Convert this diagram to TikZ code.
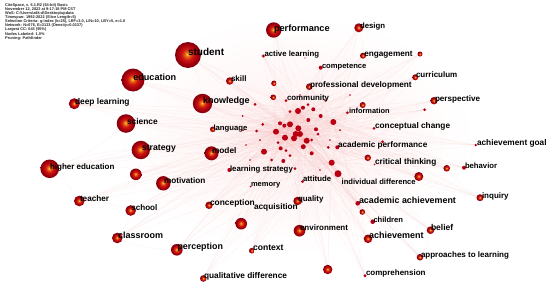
\documentclass[tikz,border=0pt]{standalone}
\usepackage{fontspec}
\setmainfont{Liberation Sans}
\definecolor{cbcore}{RGB}{255,214,70}
\definecolor{cbmid}{RGB}{238,110,20}
\definecolor{cbred}{RGB}{205,22,18}
\definecolor{cbdark}{RGB}{165,0,12}
\definecolor{cbedge}{RGB}{125,0,12}
\definecolor{cbdot}{RGB}{185,0,18}
\definecolor{edgepink}{RGB}{250,175,175}
\pgfdeclareradialshading{citeball}{\pgfpoint{-1.5bp}{1.5bp}}{color(0bp)=(cbcore); color(4bp)=(cbmid); color(11bp)=(cbred); color(19bp)=(cbdark); color(25bp)=(cbedge); color(50bp)=(cbedge)}
\pgfdeclarelayer{bg}
\pgfsetlayers{bg,main}
\tikzset{
  kwball/.style={circle, inner sep=0pt, outer sep=0pt, shading=citeball, minimum size=#1},
  kwdot/.style={circle, inner sep=0pt, outer sep=0pt, fill=cbdot, minimum size=#1},
  kwlbl/.style={anchor=base west, inner sep=0pt, outer sep=0pt, text=black, font=\bfseries\fontsize{#1}{#1}\selectfont},
  kwedge/.style={draw=edgepink, line width=0.3pt, opacity=0.16},
}
\begin{document}
\begin{tikzpicture}[x=1pt,y=-1pt]
\useasboundingbox (0,0) rectangle (550,287);
% header
\node[anchor=north west, align=left, inner sep=0pt, font=\bfseries\fontsize{3.9}{4.15}\selectfont, text=black!85] (hdr) at (5,3)
 {CiteSpace, v. 6.1.R2 (64-bit) Basic\\November 12, 2022 at 9:17:18 PM CST\\WoS: C:\textbackslash Users\textbackslash zdk-d\textbackslash Desktop\textbackslash updata\\Timespan: 1992-2022 (Slice Length=5)\\Selection Criteria: g-index (k=25), LRF=3.0, L/N=10, LBY=5, e=1.0\\Network: N=676, E=3123 (Density=0.0137)\\Largest CC: 643 (95\%)\\Nodes Labeled: 1.0\%\\Pruning: Pathfinder};
% shaded keyword nodes
\foreach \n/\x/\y/\r in {
 student/188/55/13, performance/273.7/30/7.7, design/358.8/27.8/4.5, engagement/363/55.7/3,
 dA/420/54/2.5, curriculum/415.3/77.3/3, skill/229.7/81/3.7, profdev/309.3/86.7/3.3,
 dB/274/83.3/2.8, dC/273.3/97.3/2.8, perspective/434/100.7/3.7, info/362.7/105/3,
 education/133/80/11.5, deeplearning/74.3/103.7/5.5, knowledge/202.5/103.5/9.7,
 science/126/123.5/9.3, language/212.8/129.3/2.8, strategy/140.8/150/9.2, model/211.5/153.3/7,
 highered/49.7/168.8/9.3, dD/135.8/174.3/5.8, motivation/163.3/183.3/7.2,
 teacher/79.3/201/5.3, school/130.7/210.5/5.3, conception/209/205.3/3.7, dE/241.2/223.7/5.8,
 classroom/117.3/238/5.3, perception/176.8/249.8/5.8, context/251.8/250.7/2.8,
 qualdiff/203.3/278.5/3.3, quality/297.5/201/4.2, critthink/367.8/157.8/3.2,
 dF/446.7/168.3/3.3, inddiff/418.8/176.5/4.5, inquiry/480/197.7/3.5, dG/362.3/212/2.8,
 environment/299.5/230.7/5.8, achievement/368/238.8/4.3, belief/430.5/230.2/3.8,
 approaches/420/257.2/3.3, dH/327.7/269.5/4.7}
 \node[kwball={2*\r*1pt}] (\n) at (\x,\y) {};
% small solid dots
\foreach \n/\x/\y/\r in {
 activel/263.3/56/1.7, competence/320.7/67.7/2, community/286/100.7/1.5, dI/424.7/109.7/1.5,
 infodot/347.3/112.7/1.5, learnstrat/229.3/170/2, memory/250.7/186.5/1, attitude/302.5/181.5/1.5,
 acadperf/337.3/147.3/2, dJ/382.7/141.7/1.5, concchange/374/128.3/1.5, achgoal/475.7/145/1.3,
 ctdot/374.5/164.5/0.8, behavior/464/167.7/2, acadach/357.7/203.3/2.3, children/372.7/221.7/2.3,
 comprehension/365/275.7/1.7, dK/305/58/0.7, dL/330/140/0.8}
 \node[kwdot={2*\r*1pt}] (\n) at (\x,\y) {};
% central cluster
\foreach \n/\x/\y/\r in {
 c1/308/104.7/1.5, c2/303/107.7/2, c3/298/111/3, c4/290/111.7/1.5, c5/313.3/109.3/2,
 c6/320.7/116/2, c7/333.3/122/3, c8/308.3/120/2, c9/290/124.3/3, c10/284.3/125.7/2,
 c11/280/123.3/2, c12/276/131.7/3, c13/262.7/124.3/1.5, c14/298.3/128.3/3, c15/300/134/3,
 c16/295.7/134/3, c17/294/138.3/3, c18/285/137.7/3, c19/306.7/140.7/3, c20/316/129.3/2,
 c21/318/134/1.5, c22/303.3/146.7/2.5, c23/280.7/148.3/2, c24/286/150.7/1.5, c25/264/151.7/3,
 c26/290/155.7/1.5, c27/283.3/161/2, c28/295/168.7/1.5, c29/331.7/162.7/3, c30/338/173.7/3.5,
 c31/328.3/147.3/1.5, c32/256.7/131/1.5, c33/255/104.3/1.5, c34/242.7/116/1, c35/260/140/1,
 c36/243/130/1, c37/278/142.7/1.5, c38/271.7/160/1.5, c39/311.7/140/1.5, c40/311.7/153.3/2,
 c41/246/145/0.8, c42/268/170/0.8, c43/320/170/0.8, c44/350/95/0.8, c45/300/95/0.8,
 c46/325/100/1, c47/340/130/1, c48/250/160/0.8, c49/228/98/0.8, c50/318/178/0.8}
 \node[kwdot={2*\r*1pt}] (\n) at (\x,\y) {};
% labels
\foreach \n/\x/\y/\s/\t in {
 student/188/55.5/10/student, performance/274/31/9.2/performance, design/360/28.5/7.8/design,
 activel/264.5/56.6/7.8/active learning, engagement/364.3/56.3/8.2/engagement,
 competence/322/68.3/7.6/competence, curriculum/416/77.8/8/curriculum, skill/231/81.5/8/skill,
 profdev/310/87.3/8.2/professional development, community/287/100.8/7.9/community,
 perspective/435/101.3/8.1/perspective, infodot/349/113.2/7.4/information,
 education/133.3/80.5/9.1/education, deeplearning/75/104/8.4/deep learning,
 knowledge/203/103.7/9/knowledge, science/127/124/8.4/science, language/213.5/130/7.7/language,
 strategy/142/150/8.7/strategy, model/212/153.4/8.3/model, highered/50/169.5/8/higher education,
 motivation/164/183.5/8.2/motivation, learnstrat/230/171/7.8/learning strategy,
 memory/251/186.6/7.5/memory, teacher/80/201/8.2/teacher, school/131.3/210.5/8.1/school,
 conception/210/205.9/8.4/conception, acq/254/209.3/8.3/acquisition,
 classroom/118/238/9/classroom, perception/177.5/249.7/8.9/perception,
 context/253/250.4/8.6/context, qualdiff/204/278.8/8.3/qualitative difference,
 quality/298/201/7.9/quality, attitude/303/181.6/7.8/attitude,
 acadperf/338/147.5/8.2/academic performance, concchange/375/128.5/8.3/conceptual change,
 achgoal/477/145.5/8.3/achievement goal, critthink/375/164/8.3/critical thinking,
 behavior/465/168/7.7/behavior, inddiff/341.7/184.4/7.6/individual difference,
 inquiry/482/198/8/inquiry, acadach/359/203.5/8.9/academic achievement,
 children/373.5/222/7.6/children, environment/300/230.6/8/environment,
 achievement/369/238.7/9/achievement, belief/431/230/8.5/belief,
 approaches/421/257.4/8/approaches to learning, comprehension/366/275.5/8/comprehension}
 \node[kwlbl=\s] (l-\n) at (\x,\y) {\t};
% edges on background
\begin{pgfonlayer}{bg}
\fill[white] (0,0) rectangle (550,287);
\shade[inner color=red!6, outer color=white] (295,135) ellipse (180 and 120);
\foreach \a in {student,performance,design,engagement,dA,curriculum,skill,profdev,dB,dC,perspective,info,
 education,deeplearning,knowledge,science,language,strategy,model,highered,dD,motivation,teacher,school,
 conception,dE,classroom,perception,context,qualdiff,quality,critthink,dF,inddiff,inquiry,dG,environment,
 achievement,belief,approaches,dH,activel,competence,dI,infodot,learnstrat,attitude,acadperf,dJ,concchange,
 achgoal,behavior,acadach,children,comprehension}
 \foreach \b in {c3,c9,c15,c19,c29,c12,c7}
  \draw[kwedge] (\a) -- (\b);
\foreach \a in {c1,c2,c4,c5,c6,c8,c10,c11,c13,c14,c16,c17,c18,c20,c21,c22,c23,c24,c25,c26,c27,c28,c30,c31,c32,c33,c34,c35,c36,c37,c38,c39,c40,c41,c42,c43,c44,c45,c46,c47,c48,c49,c50}
 \foreach \b in {c3,c15,c19,c9,c12}
  \draw[kwedge] (\a) -- (\b);
\foreach \a/\b in {student/education, education/science, science/highered, highered/teacher,
 strategy/motivation, knowledge/model, student/knowledge, deeplearning/science, school/classroom,
 perception/classroom, strategy/dD, education/deeplearning, highered/strategy, teacher/school,
 environment/achievement, belief/approaches, inquiry/dF, achgoal/behavior, design/engagement}
 \draw[kwedge] (\a) to[bend left=10] (\b);
\end{pgfonlayer}
\end{tikzpicture}
\end{document}
